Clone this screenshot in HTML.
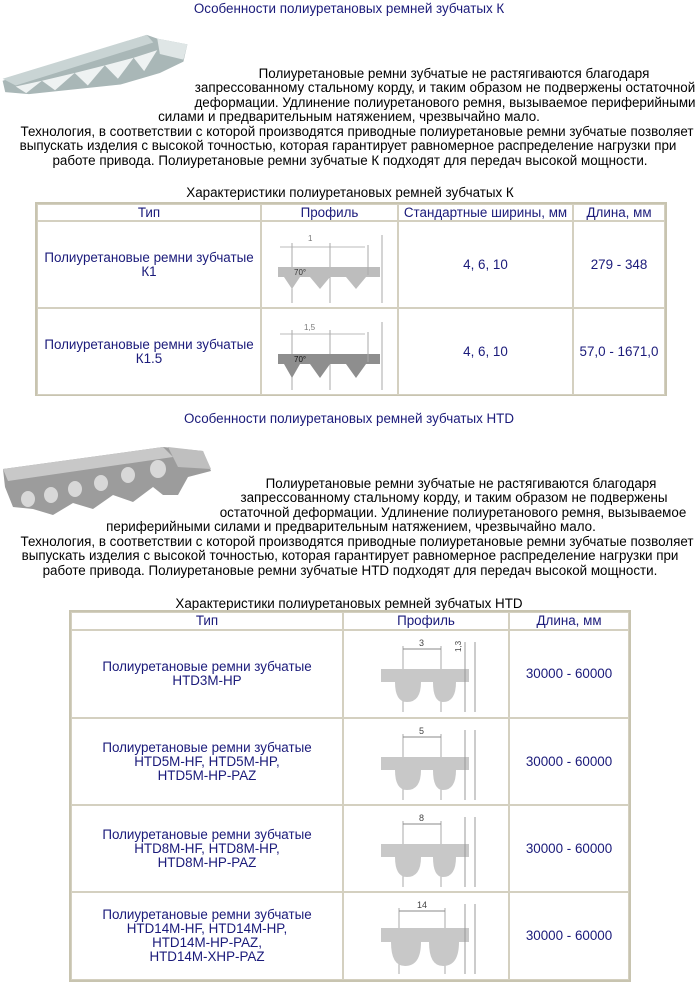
<!DOCTYPE html>
<html><head><meta charset="utf-8"><style>
body{margin:0;width:698px;height:1002px;background:#fff;position:relative;overflow:hidden;font-family:"Liberation Sans","DejaVu Sans",sans-serif;font-size:13.4px;}
.l{position:absolute;white-space:nowrap;transform:translateX(-50%);color:#000;line-height:14px;}
.n{color:#1a1a7a;}
.c{position:absolute;box-sizing:border-box;border:1px solid #d4d0c0;display:flex;align-items:center;justify-content:center;text-align:center;color:#1a1a7a;line-height:14px;white-space:nowrap;}
.tb{position:absolute;border:2px solid #c8c4b0;box-sizing:border-box;}
</style></head><body>
<div class="l n" style="left:349px;top:2px">Особенности полиуретановых ремней зубчатых К</div>
<svg style="position:absolute;left:0px;top:31px" width="190" height="65" viewBox="0 0 145 68" preserveAspectRatio="none">
<polygon points="2,52 112,4 120,8 143,14 140,32 122,44 112,48 92,56 22,66 4,64" fill="#a9b7b7"/>
<polygon points="2,50 112,4 117,12 12,57" fill="#c9d4d4"/>
<g fill="#eef2f2"><polygon points="12,58 20,65 32,52"/><polygon points="32,52 42,62 57,44"/><polygon points="57,44 67,57 80,36"/><polygon points="80,36 90,50 102,28"/><polygon points="102,28 110,42 120,20"/></g>
<polygon points="120,8 143,14 140,30 122,24" fill="#dfe6e6"/>
</svg>
<div class="l" style="left:454px;top:67px">Полиуретановые ремни зубчатые не растягиваются благодаря</div>
<div class="l" style="left:445px;top:81px">запрессованному стальному корду, и таким образом не подвержены остаточной</div>
<div class="l" style="left:445px;top:96px">деформации. Удлинение полиуретанового ремня, вызываемое периферийными</div>
<div class="l" style="left:349px;top:110px">силами и предварительным натяжением, чрезвычайно мало.</div>
<div class="l" style="left:357px;top:125px">Технология, в соответствии с которой производятся приводные полиуретановые ремни зубчатые позволяет</div>
<div class="l" style="left:348px;top:139px">выпускать изделия с высокой точностью, которая гарантирует равномерное распределение нагрузки при</div>
<div class="l" style="left:350px;top:154px">работе привода. Полиуретановые ремни зубчатые К подходят для передач высокой мощности.</div>
<div class="l" style="left:350px;top:186px">Характеристики полиуретановых ремней зубчатых К</div>

<div class="tb" style="left:35px;top:202px;width:632px;height:194px"></div>
<div class="c" style="left:37px;top:204px;width:224px;height:17px">Тип</div>
<div class="c" style="left:261px;top:204px;width:137px;height:17px">Профиль</div>
<div class="c" style="left:398px;top:204px;width:175px;height:17px">Стандартные ширины, мм</div>
<div class="c" style="left:573px;top:204px;width:92px;height:17px">Длина, мм</div>
<div class="c" style="left:37px;top:221px;width:224px;height:87px">Полиуретановые ремни зубчатые<br>К1</div>
<div class="c" style="left:261px;top:221px;width:137px;height:87px"><svg width="120" height="80"><line x1="10" y1="22" x2="95" y2="22" stroke="#bbb"/><line x1="22" y1="18" x2="22" y2="78" stroke="#aaa"/><line x1="60" y1="18" x2="60" y2="78" stroke="#aaa"/><text x="38" y="16" font-size="8" fill="#777">1</text><polygon points="8,42 110,42 110,52 96,52 86,64 76,52 60,52 50,64 40,52 30,52 22,64 14,52 8,52" fill="#bdbdbd"/><text x="24" y="50" font-size="8" fill="#333">70°</text><line x1="112" y1="10" x2="112" y2="78" stroke="#aaa"/><line x1="98" y1="20" x2="98" y2="50" stroke="#aaa"/></svg></div>
<div class="c" style="left:398px;top:221px;width:175px;height:87px">4, 6, 10</div>
<div class="c" style="left:573px;top:221px;width:92px;height:87px">279 - 348</div>
<div class="c" style="left:37px;top:308px;width:224px;height:87px">Полиуретановые ремни зубчатые<br>К1.5</div>
<div class="c" style="left:261px;top:308px;width:137px;height:87px"><svg width="120" height="80"><line x1="10" y1="22" x2="95" y2="22" stroke="#bbb"/><line x1="22" y1="18" x2="22" y2="78" stroke="#aaa"/><line x1="60" y1="18" x2="60" y2="78" stroke="#aaa"/><text x="34" y="18" font-size="8" fill="#777">1,5</text><polygon points="8,42 110,42 110,52 96,52 86,66 76,52 60,52 50,66 40,52 30,52 22,66 14,52 8,52" fill="#8e8e8e"/><text x="24" y="50" font-size="8" fill="#111">70°</text><line x1="112" y1="10" x2="112" y2="78" stroke="#aaa"/><line x1="98" y1="20" x2="98" y2="50" stroke="#aaa"/></svg></div>
<div class="c" style="left:398px;top:308px;width:175px;height:87px">4, 6, 10</div>
<div class="c" style="left:573px;top:308px;width:92px;height:87px">57,0 - 1671,0</div>

<div class="l n" style="left:349px;top:412px">Особенности полиуретановых ремней зубчатых HTD</div>
<svg style="position:absolute;left:3px;top:447px" width="210" height="70">
<polygon points="0,22 160,0 200,4 208,24 185,30 175,48 160,48 150,40 130,55 110,48 90,62 70,56 50,68 30,62 10,60 2,40" fill="#9c9c9c"/>
<polygon points="0,22 160,0 170,10 5,34" fill="#c8c8c8"/>
<polygon points="165,0 200,4 208,22 175,20" fill="#bfbfbf"/>
<g fill="#d8d8d8"><ellipse cx="25" cy="52" rx="7" ry="8"/><ellipse cx="48" cy="48" rx="7" ry="8"/><ellipse cx="72" cy="42" rx="7" ry="8"/><ellipse cx="98" cy="36" rx="7" ry="8"/><ellipse cx="125" cy="28" rx="7" ry="8"/><ellipse cx="155" cy="22" rx="8" ry="9"/></g>
</svg>
<div class="l" style="left:461px;top:477px">Полиуретановые ремни зубчатые не растягиваются благодаря</div>
<div class="l" style="left:454px;top:491px">запрессованному стальному корду, и таким образом не подвержены</div>
<div class="l" style="left:453px;top:506px">остаточной деформации. Удлинение полиуретанового ремня, вызываемое</div>
<div class="l" style="left:351px;top:520px">периферийными силами и предварительным натяжением, чрезвычайно мало.</div>
<div class="l" style="left:357px;top:535px">Технология, в соответствии с которой производятся приводные полиуретановые ремни зубчатые позволяет</div>
<div class="l" style="left:350px;top:549px">выпускать изделия с высокой точностью, которая гарантирует равномерное распределение нагрузки при</div>
<div class="l" style="left:350px;top:564px">работе привода. Полиуретановые ремни зубчатые HTD подходят для передач высокой мощности.</div>
<div class="l" style="left:349px;top:597px">Характеристики полиуретановых ремней зубчатых HTD</div>

<div class="tb" style="left:69px;top:610px;width:562px;height:372px"></div>
<div class="c" style="left:71px;top:612px;width:272px;height:18px">Тип</div>
<div class="c" style="left:343px;top:612px;width:166px;height:18px">Профиль</div>
<div class="c" style="left:509px;top:612px;width:120px;height:18px">Длина, мм</div>

<div class="c" style="left:71px;top:630px;width:272px;height:88px">Полиуретановые ремни зубчатые<br>HTD3M-HP</div>
<div class="c" style="left:343px;top:630px;width:166px;height:88px"><svg width="130" height="80"><line x1="42" y1="12" x2="42" y2="78" stroke="#aaa"/><line x1="80" y1="12" x2="80" y2="78" stroke="#aaa"/><line x1="42" y1="15" x2="80" y2="15" stroke="#888"/><text x="58" y="12" font-size="9" fill="#444">3</text><path d="M20,35 H108 V48 H95 Q95,68 82,68 Q72,68 72,48 H60 Q60,68 46,68 Q34,68 34,48 H20Z" fill="#c8c8c8"/><line x1="104" y1="8" x2="104" y2="78" stroke="#999"/><line x1="114" y1="8" x2="114" y2="78" stroke="#999"/><text x="100" y="18" font-size="8" fill="#444" transform="rotate(-90 100 18)">1,3</text></svg></div>
<div class="c" style="left:509px;top:630px;width:120px;height:88px">30000 - 60000</div>

<div class="c" style="left:71px;top:718px;width:272px;height:87px">Полиуретановые ремни зубчатые<br>HTD5M-HF, HTD5M-HP,<br>HTD5M-HP-PAZ</div>
<div class="c" style="left:343px;top:718px;width:166px;height:87px"><svg width="130" height="80"><line x1="42" y1="12" x2="42" y2="78" stroke="#aaa"/><line x1="80" y1="12" x2="80" y2="78" stroke="#aaa"/><line x1="42" y1="15" x2="80" y2="15" stroke="#888"/><text x="58" y="12" font-size="9" fill="#444">5</text><path d="M20,35 H108 V48 H95 Q95,68 82,68 Q72,68 72,48 H60 Q60,68 46,68 Q34,68 34,48 H20Z" fill="#c8c8c8"/><line x1="104" y1="8" x2="104" y2="78" stroke="#999"/><line x1="114" y1="8" x2="114" y2="78" stroke="#999"/></svg></div>
<div class="c" style="left:509px;top:718px;width:120px;height:87px">30000 - 60000</div>

<div class="c" style="left:71px;top:805px;width:272px;height:87px">Полиуретановые ремни зубчатые<br>HTD8M-HF, HTD8M-HP,<br>HTD8M-HP-PAZ</div>
<div class="c" style="left:343px;top:805px;width:166px;height:87px"><svg width="130" height="80"><line x1="42" y1="12" x2="42" y2="78" stroke="#aaa"/><line x1="80" y1="12" x2="80" y2="78" stroke="#aaa"/><line x1="42" y1="15" x2="80" y2="15" stroke="#888"/><text x="58" y="12" font-size="9" fill="#444">8</text><path d="M20,35 H108 V48 H95 Q95,68 82,68 Q72,68 72,48 H60 Q60,68 46,68 Q34,68 34,48 H20Z" fill="#c8c8c8"/><line x1="104" y1="8" x2="104" y2="78" stroke="#999"/><line x1="114" y1="8" x2="114" y2="78" stroke="#999"/></svg></div>
<div class="c" style="left:509px;top:805px;width:120px;height:87px">30000 - 60000</div>

<div class="c" style="left:71px;top:892px;width:272px;height:88px">Полиуретановые ремни зубчатые<br>HTD14M-HF, HTD14M-HP,<br>HTD14M-HP-PAZ,<br>HTD14M-XHP-PAZ</div>
<div class="c" style="left:343px;top:892px;width:166px;height:88px"><svg width="130" height="80"><line x1="38" y1="12" x2="38" y2="78" stroke="#aaa"/><line x1="84" y1="12" x2="84" y2="78" stroke="#aaa"/><line x1="38" y1="15" x2="84" y2="15" stroke="#888"/><text x="56" y="12" font-size="9" fill="#444">14</text><path d="M20,32 H108 V46 H98 Q98,70 82,70 Q68,70 68,46 H60 Q60,70 44,70 Q30,70 30,46 H20Z" fill="#c8c8c8"/><line x1="104" y1="8" x2="104" y2="78" stroke="#999"/><line x1="114" y1="8" x2="114" y2="78" stroke="#999"/></svg></div>
<div class="c" style="left:509px;top:892px;width:120px;height:88px">30000 - 60000</div>
</body></html>
